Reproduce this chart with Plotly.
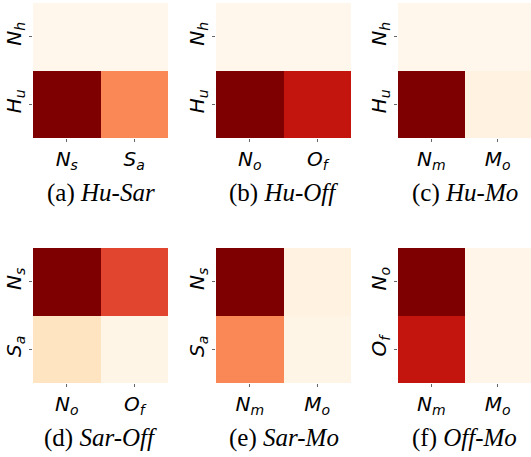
import plotly.graph_objects as go

# Panel data (rows top->bottom, columns left->right)
captions = ["(a) <i>Hu-Sar</i>", "(b) <i>Hu-Off</i>", "(c) <i>Hu-Mo</i>",
            "(d) <i>Sar-Off</i>", "(e) <i>Sar-Mo</i>", "(f) <i>Off-Mo</i>"]

def lab(base, sub):
    return f"<i>{base}</i><sub><i>{sub}</i></sub>"

row_labels = [
    [lab("N", "h"), lab("H", "u")],
    [lab("N", "h"), lab("H", "u")],
    [lab("N", "h"), lab("H", "u")],
    [lab("N", "s"), lab("S", "a")],
    [lab("N", "s"), lab("S", "a")],
    [lab("N", "o"), lab("O", "f")],
]
col_labels = [
    [lab("N", "s"), lab("S", "a")],
    [lab("N", "o"), lab("O", "f")],
    [lab("N", "m"), lab("M", "o")],
    [lab("N", "o"), lab("O", "f")],
    [lab("N", "m"), lab("M", "o")],
    [lab("N", "m"), lab("M", "o")],
]
values_a = [[0.0, 0.0], [1.0, 0.52]]
values_b = [[0.0, 0.0], [1.0, 0.82]]
values_c = [[0.0, 0.0], [1.0, 0.04]]
values_d = [[1.0, 0.70], [0.15, 0.02]]
values_e = [[1.0, 0.04], [0.52, 0.02]]
values_f = [[1.0, 0.01], [0.82, 0.01]]
all_values = [values_a, values_b, values_c, values_d, values_e, values_f]

W, H = 531, 457
x_px = [(33, 168), (216, 351), (398, 531)]
y_px = [(3, 138), (248, 383)]

fig = go.Figure()
tickfont = dict(family="DejaVu Sans", size=20, color="black")
for i, z in enumerate(all_values):
    r, c = divmod(i, 3)
    xa = "x" if i == 0 else f"x{i+1}"
    ya = "y" if i == 0 else f"y{i+1}"
    fig.add_trace(go.Heatmap(z=z, x=[0, 1], y=[0, 1], colorscale="OrRd",
                             zmin=0, zmax=1, showscale=False,
                             xaxis=xa, yaxis=ya, hoverinfo="skip"))
    x0, x1 = x_px[c]
    y0, y1 = y_px[r]
    xd = [x0 / W, min(x1 / W, 1.0)]
    yd = [1 - y1 / H, 1 - y0 / H]
    key = "" if i == 0 else str(i + 1)
    fig.layout["xaxis" + key] = dict(domain=xd, anchor=ya, tickvals=[0, 1],
                                     ticktext=col_labels[i], tickfont=tickfont,
                                     ticks="outside", ticklen=3, tickcolor="#666",
                                     showgrid=False, zeroline=False, showline=False,
                                     range=[-0.5, 1.5], fixedrange=True)
    fig.layout["yaxis" + key] = dict(domain=yd, anchor=xa, tickvals=[0, 1],
                                     ticktext=row_labels[i], tickfont=tickfont,
                                     tickangle=-90,
                                     ticks="outside", ticklen=3, tickcolor="#666",
                                     showgrid=False, zeroline=False, showline=False,
                                     range=[1.5, -0.5], fixedrange=True)
    fig.add_annotation(text=captions[i], xref="paper", yref="paper",
                       x=(x0 + x1) / 2 / W, y=1 - (y1 + 55) / H,
                       showarrow=False, xanchor="center", yanchor="middle",
                       font=dict(family="Liberation Serif", size=25, color="black"))

fig.update_layout(width=W, height=H, margin=dict(l=0, r=0, t=0, b=0),
                  paper_bgcolor="white", plot_bgcolor="white")
fig.write_html("out.html", config={"displayModeBar": False},
               post_script="document.body.style.margin='0';document.body.style.overflow='hidden';")
